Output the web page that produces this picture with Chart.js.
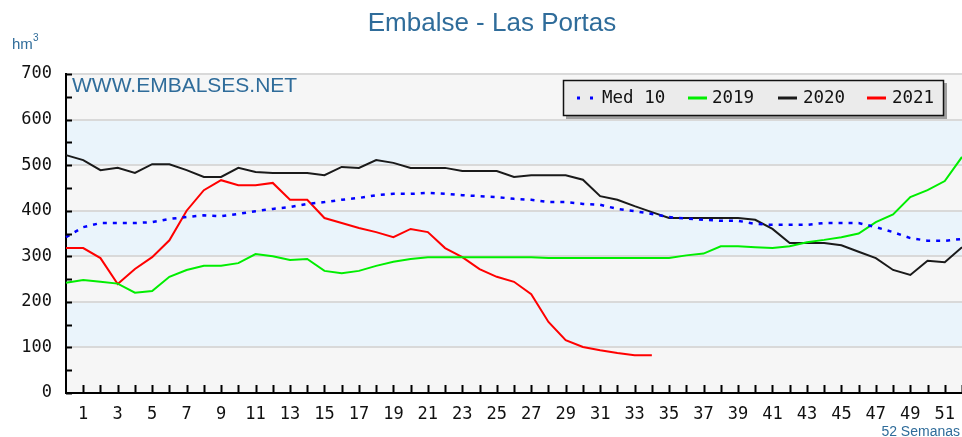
<!DOCTYPE html>
<html>
<head>
<meta charset="utf-8">
<script src="https://cdn.jsdelivr.net/npm/chart.js@4"></script>
<style>
  html, body { margin: 0; padding: 0; background: #fff; }
  #wrap { width: 962px; height: 437px; position: relative; }
</style>
</head>
<body>
<div id="wrap"><canvas id="chart"></canvas></div>
<script>
'use strict';

const weeks = ['0', '1', '2', '3', '4', '5', '6', '7', '8', '9', '10', '11', '12', '13', '14', '15', '16', '17',
    '18', '19', '20', '21', '22', '23', '24', '25', '26', '27', '28', '29', '30', '31', '32', '33', '34', '35',
    '36', '37', '38', '39', '40', '41', '42', '43', '44', '45', '46', '47', '48', '49', '50', '51', '52'];

const med10 = [342, 364, 373, 373, 373, 375, 382, 386, 390, 388, 393, 399, 404, 408, 415, 419, 424, 428,
    434, 437, 437, 439, 437, 434, 432, 430, 426, 424, 419, 419, 415, 413, 404, 399, 393, 386,
    383, 380, 378, 378, 371, 369, 369, 369, 373, 373, 373, 364, 353, 340, 334, 334, 338];

const y2019 = [242, 248, 244, 240, 220, 224, 255, 270, 279, 279, 285, 305, 300, 292, 294, 268, 263, 268,
    279, 288, 294, 298, 298, 298, 298, 298, 298, 298, 296, 296, 296, 296, 296, 296, 296, 296,
    302, 306, 322, 322, 320, 318, 322, 331, 336, 342, 350, 375, 392, 430, 445, 465, 518];

const y2020 = [522, 511, 489, 494, 483, 502, 502, 489, 474, 474, 494, 485, 483, 483, 483, 478, 496, 494,
    511, 505, 494, 494, 494, 487, 487, 487, 474, 478, 478, 478, 468, 432, 424, 410, 397, 384,
    384, 384, 384, 384, 380, 360, 329, 329, 329, 324, 310, 296, 270, 259, 290, 287, 320];

const y2021 = [318, 318, 296, 239, 272, 298, 335, 400, 445, 467, 456, 456, 461, 424, 424, 384, 373, 362,
    353, 342, 360, 353, 318, 298, 272, 255, 244, 217, 156, 116, 101, 94, 88, 83, 83];

const yTicks = [0, 100, 200, 300, 400, 500, 600, 700];

const BLUE_TEXT = '#2f6c9a';
const MONO = '"DejaVu Sans Mono", monospace';
const SANS = '"Liberation Sans", Arial, sans-serif';

// bands, minor tick marks, titles and the boxed legend
const decor = {
    id: 'decor',
    beforeDraw(chart) {
        const {ctx, chartArea: a, scales: {y}} = chart;
        ctx.save();
        for (let i = 0; i < yTicks.length - 1; i++) {
            const top = y.getPixelForValue(yTicks[i + 1]);
            const bot = y.getPixelForValue(yTicks[i]);
            ctx.fillStyle = i % 2 === 0 ? '#f6f6f6' : '#eaf4fb';
            ctx.fillRect(a.left, top, a.right - a.left, bot - top);
        }
        ctx.restore();
    },
    afterDraw(chart) {
        const {ctx, chartArea: a, scales: {x, y}} = chart;
        ctx.save();

        // tick marks pointing into the plot
        ctx.strokeStyle = '#000';
        ctx.lineWidth = 2;
        ctx.beginPath();
        for (let v = 0; v <= 700; v += 50) {
            const py = Math.round(y.getPixelForValue(v)) + 0.5;
            ctx.moveTo(a.left, py);
            ctx.lineTo(a.left + 6, py);
        }
        for (let i = 1; i < weeks.length; i++) {
            const px = Math.round(x.getPixelForValue(i)) + 0.5;
            ctx.moveTo(px, a.bottom);
            ctx.lineTo(px, a.bottom - 8);
        }
        ctx.stroke();

        // title and texts
        ctx.fillStyle = BLUE_TEXT;
        ctx.textBaseline = 'alphabetic';
        ctx.textAlign = 'center';
        ctx.font = '26px ' + SANS;
        ctx.fillText('Embalse - Las Portas', 492, 31);

        ctx.textAlign = 'left';
        ctx.font = '15px ' + SANS;
        ctx.fillText('hm', 12, 49);
        ctx.font = '10px ' + SANS;
        ctx.fillText('3', 33, 41);

        ctx.font = '21px ' + SANS;
        ctx.fillText('WWW.EMBALSES.NET', 72, 92);

        ctx.textAlign = 'right';
        ctx.font = '14px ' + SANS;
        ctx.fillText('52 Semanas', 960, 436);

        // legend box with shadow
        ctx.fillStyle = '#a0a0a0';
        ctx.fillRect(566, 83, 381, 36);
        ctx.fillStyle = '#ebebeb';
        ctx.fillRect(563, 80, 381, 36);
        ctx.strokeStyle = '#111';
        ctx.lineWidth = 1.5;
        ctx.strokeRect(563.5, 80.5, 380, 35);

        const items = chart.data.datasets.map(ds => ({label: ds.label, color: ds.borderColor, dash: ds.borderDash}));
        const xs = [[577, 602], [688, 712], [778, 803], [867, 892]];
        ctx.font = '17.5px ' + MONO;
        ctx.textAlign = 'left';
        ctx.textBaseline = 'middle';
        items.forEach((it, i) => {
            const [lx, tx] = xs[i];
            ctx.strokeStyle = it.color;
            ctx.lineWidth = 3;
            ctx.setLineDash(it.dash && it.dash.length ? [3, 10] : []);
            ctx.beginPath();
            ctx.moveTo(lx, 98);
            ctx.lineTo(lx + 19, 98);
            ctx.stroke();
            ctx.setLineDash([]);
            ctx.fillStyle = '#111';
            ctx.fillText(it.label, tx, 98);
        });
        ctx.restore();
    }
};

new Chart(document.getElementById('chart'), {
    type: 'line',
    data: {
        labels: weeks,
        datasets: [
            {
                label: 'Med 10',
                data: med10,
                borderColor: '#0000ff',
                borderWidth: 2.5,
                borderDash: [4, 6]
            },
            {
                label: '2019',
                data: y2019,
                borderColor: '#00ee00',
                borderWidth: 2
            },
            {
                label: '2020',
                data: y2020,
                borderColor: '#1a1a1a',
                borderWidth: 2
            },
            {
                label: '2021',
                data: y2021,
                borderColor: '#ff0000',
                borderWidth: 2
            }
        ]
    },
    options: {
        responsive: true,
        maintainAspectRatio: false,
        animation: false,
        elements: {
            point: { radius: 0 },
            line: { tension: 0, fill: false }
        },
        layout: { padding: { top: 74, left: 0, right: 0, bottom: 0 } },
        plugins: {
            legend: { display: false },
            title: { display: false },
            tooltip: { enabled: false }
        },
        scales: {
            x: {
                type: 'category',
                offset: false,
                afterFit: scale => {
                    scale.height = 44;
                    scale.paddingLeft = 0;
                    scale.paddingRight = 0;
                },
                grid: { drawOnChartArea: false, drawTicks: false },
                border: { color: '#000', width: 2 },
                ticks: {
                    autoSkip: false,
                    maxRotation: 0,
                    padding: 11,
                    color: '#111',
                    font: { family: MONO, size: 17 },
                    callback: (val, idx) => (idx % 2 === 1 ? weeks[idx] : '')
                }
            },
            y: {
                min: 0,
                max: 700,
                afterFit: scale => {
                    scale.width = 66;
                    scale.paddingTop = 0;
                    scale.paddingBottom = 0;
                },
                grid: { color: '#d9d9d9', lineWidth: 2, drawTicks: false },
                border: { color: '#000', width: 2 },
                ticks: {
                    stepSize: 100,
                    padding: 14,
                    color: '#111',
                    font: { family: MONO, size: 17 }
                }
            }
        }
    },
    plugins: [decor]
});
</script>
</body>
</html>
